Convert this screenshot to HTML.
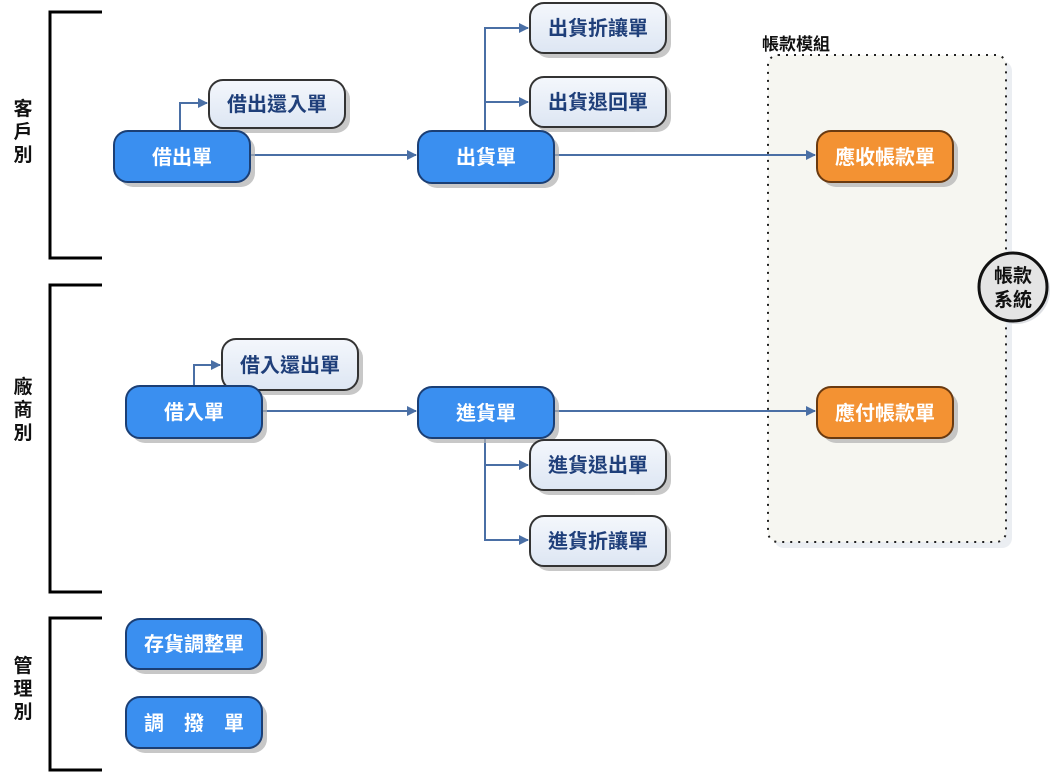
<!DOCTYPE html>
<html><head><meta charset="utf-8"><style>
html,body{margin:0;padding:0;background:#fff;}
svg text{font-family:"Liberation Sans","Noto Sans CJK TC",sans-serif;font-weight:bold;}
</style></head><body>
<svg width="1060" height="774" viewBox="0 0 1060 774" xmlns="http://www.w3.org/2000/svg">
<defs>
<marker id="a" markerWidth="10" markerHeight="10" refX="9" refY="5" orient="auto" markerUnits="userSpaceOnUse">
<path d="M0,0 L10,5 L0,10 z" fill="#4a6fa5"/></marker>
<linearGradient id="lb" x1="0" y1="0" x2="0" y2="1"><stop offset="0" stop-color="#f4f7fc"/><stop offset="1" stop-color="#dde6f3"/></linearGradient>
</defs>
<g stroke="#000" stroke-width="3" fill="none">
<path d="M102,12 H50 V258 H102"/>
<path d="M102,285 H50 V592 H102"/>
<path d="M102,618 H50 V770 H102"/>
</g>
<g font-size="19" fill="#111" text-anchor="middle">
<text x="23" y="115">客</text><text x="23" y="138">戶</text><text x="23" y="161">別</text>
<text x="23" y="393">廠</text><text x="23" y="416">商</text><text x="23" y="439">別</text>
<text x="23" y="672">管</text><text x="23" y="695">理</text><text x="23" y="718">別</text>
</g>
<rect x="774" y="61" width="238" height="487" rx="10" fill="#d8dde6" opacity="0.5"/>
<rect x="768" y="55" width="238" height="487" rx="10" fill="#f6f6f1" stroke="#222" stroke-width="2" stroke-dasharray="2,6"/>
<text x="762" y="50" font-size="17" fill="#111">帳款模組</text>
<g stroke="#4a6fa5" stroke-width="2" fill="none">
<path d="M250,155 H416" marker-end="url(#a)"/>
<path d="M553,155 H815" marker-end="url(#a)"/>
<path d="M262,411 H416" marker-end="url(#a)"/>
<path d="M553,411 H815" marker-end="url(#a)"/>
<path d="M180,131 V103 H207" marker-end="url(#a)"/>
<path d="M194,386 V365 H220" marker-end="url(#a)"/>
<path d="M485,131 V28 H528" marker-end="url(#a)"/>
<path d="M485,102 H528" marker-end="url(#a)"/>
<path d="M485,438 V540 H528" marker-end="url(#a)"/>
<path d="M485,465 H528" marker-end="url(#a)"/>
</g>
<g fill="#b0b0b0" opacity="0.7">
<rect x="119" y="136" width="136" height="51" rx="14"/>
<rect x="423" y="136" width="136" height="52" rx="14"/>
<rect x="131" y="391" width="136" height="52" rx="14"/>
<rect x="423" y="392" width="136" height="51" rx="14"/>
<rect x="131" y="624" width="136" height="50" rx="14"/>
<rect x="131" y="702" width="136" height="51" rx="14"/>
<rect x="214" y="85" width="136" height="48" rx="14"/>
<rect x="535" y="8" width="136" height="50" rx="14"/>
<rect x="535" y="82" width="136" height="50" rx="14"/>
<rect x="227" y="344" width="136" height="51" rx="14"/>
<rect x="535" y="445" width="136" height="50" rx="14"/>
<rect x="535" y="521" width="136" height="50" rx="14"/>
<rect x="822" y="136" width="136" height="51" rx="14"/>
<rect x="822" y="392" width="136" height="51" rx="14"/>
</g>
<g fill="url(#lb)" stroke="#333" stroke-width="2">
<rect x="209" y="80" width="136" height="48" rx="14"/>
<rect x="530" y="3" width="136" height="50" rx="14"/>
<rect x="530" y="77" width="136" height="50" rx="14"/>
<rect x="222" y="339" width="136" height="51" rx="14"/>
<rect x="530" y="440" width="136" height="50" rx="14"/>
<rect x="530" y="516" width="136" height="50" rx="14"/>
</g>
<g font-size="20" fill="#1f3f7a" text-anchor="middle">
<text x="277" y="111">借出還入單</text>
<text x="598" y="35">出貨折讓單</text>
<text x="598" y="109">出貨退回單</text>
<text x="290" y="372">借入還出單</text>
<text x="598" y="472">進貨退出單</text>
<text x="598" y="548">進貨折讓單</text>
</g>
<g fill="#3a8ff0" stroke="#1b3f75" stroke-width="2">
<rect x="114" y="131" width="136" height="51" rx="14"/>
<rect x="418" y="131" width="136" height="52" rx="14"/>
<rect x="126" y="386" width="136" height="52" rx="14"/>
<rect x="418" y="387" width="136" height="51" rx="14"/>
<rect x="126" y="619" width="136" height="50" rx="14"/>
<rect x="126" y="697" width="136" height="51" rx="14"/>
</g>
<g font-size="20" fill="#fff" text-anchor="middle">
<text x="182" y="164">借出單</text>
<text x="486" y="164">出貨單</text>
<text x="194" y="419">借入單</text>
<text x="486" y="420">進貨單</text>
<text x="194" y="651">存貨調整單</text>
<text x="194" y="730" xml:space="preserve">調　撥　單</text>
</g>
<g fill="#f39233" stroke="#6a3a10" stroke-width="2">
<rect x="817" y="131" width="136" height="51" rx="14"/>
<rect x="817" y="387" width="136" height="51" rx="14"/>
</g>
<g font-size="20" fill="#fff" text-anchor="middle">
<text x="885" y="164">應收帳款單</text>
<text x="885" y="420">應付帳款單</text>
</g>
<circle cx="1016" cy="290" r="34" fill="#c8ccd2" opacity="0.6"/>
<circle cx="1013" cy="287" r="34" fill="#e4e4e4" stroke="#111" stroke-width="3"/>
<g font-size="19" fill="#111" text-anchor="middle">
<text x="1013" y="282">帳款</text><text x="1013" y="306">系統</text>
</g>
</svg>
</body></html>
